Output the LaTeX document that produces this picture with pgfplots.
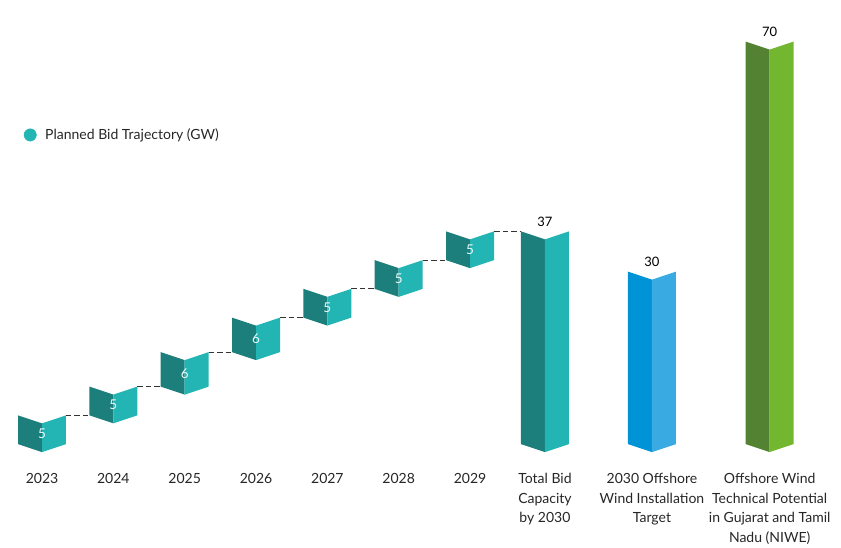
\documentclass[border=0pt]{standalone}
\usepackage{fontspec}
\setmainfont{Lato}
\usepackage{pgfplots}
\usepackage{pgfplotstable}
\pgfplotsset{compat=1.18}

\definecolor{tealD}{HTML}{1C7F7C}
\definecolor{tealL}{HTML}{23B5B3}
\definecolor{blueD}{HTML}{0093D6}
\definecolor{blueL}{HTML}{3AABE2}
\definecolor{greenD}{HTML}{528232}
\definecolor{greenL}{HTML}{72B72F}

% x position, bottom, top, label, fold colours
\pgfplotstableread{
x    lo hi v  dark   light
0    0  5  5  tealD  tealL
1    5  10 5  tealD  tealL
2    10 16 6  tealD  tealL
3    16 22 6  tealD  tealL
4    22 27 5  tealD  tealL
5    27 32 5  tealD  tealL
6    32 37 5  tealD  tealL
7.05 0  37 37 tealD  tealL
8.55 0  30 30 blueD  blueL
10.2 0  70 70 greenD greenL
}\bars

\def\hw{0.336}   % half width of a folded bar
\def\dep{1.39}   % depth of the fold

\begin{document}
\begin{tikzpicture}
\begin{axis}[
    scale only axis,
    width=841pt,
    height=465pt,
    xmin=-0.589, xmax=11.2,
    ymin=-3.65, ymax=77.22,
    clip=false,
    axis line style={draw=none},
    major tick length=0pt,
    ytick=\empty,
    xtick={0,1,2,3,4,5,6,7.05,8.55,10.2},
    xticklabels={2023,2024,2025,2026,2027,2028,2029,
        {Total Bid\\Capacity\\by 2030},
        {2030 Offshore\\Wind Installation\\Target},
        {Offshore Wind\\Technical Potential\\in Gujarat and Tamil\\Nadu (NIWE)}},
    xticklabel style={align=center, text=black!85, yshift=-5pt,
        font=\fontsize{14}{19.5}\selectfont},
    legend style={at={(0.0245,0.71)}, anchor=west, draw=none, fill=none,
        font=\fontsize{14}{16}\selectfont, text=black!85},
    legend image code/.code={\fill[#1] (0,0) circle (6.2pt);
        \path[draw=none] (-6pt,0) -- (13pt,0);},
    ]
\addlegendimage{tealL}
\addlegendentry{Planned Bid Trajectory (GW)}

% dashed connectors of the waterfall
\pgfplotsforeachungrouped \i in {0,...,6}{%
    \pgfmathtruncatemacro\j{\i+1}%
    \pgfplotstablegetelem{\i}{x}\of\bars \let\xa\pgfplotsretval
    \pgfplotstablegetelem{\j}{x}\of\bars \let\xb\pgfplotsretval
    \pgfplotstablegetelem{\i}{hi}\of\bars \let\ya\pgfplotsretval
    \pgfmathsetmacro\xs{\xa+\hw}%
    \pgfmathsetmacro\xe{\xb-\hw}%
    \edef\temp{\noexpand\addplot[forget plot, black!80, line width=1.1pt,
        dash pattern=on 5.5pt off 3pt] coordinates {(\xs,\ya) (\xe,\ya)};}%
    \temp
}

% folded bars
\pgfplotstablegetrowsof{\bars}
\pgfmathtruncatemacro\nrows{\pgfplotsretval-1}
\pgfplotsforeachungrouped \i in {0,...,\nrows}{%
    \pgfplotstablegetelem{\i}{x}\of\bars \let\bx\pgfplotsretval
    \pgfplotstablegetelem{\i}{lo}\of\bars \let\lo\pgfplotsretval
    \pgfplotstablegetelem{\i}{hi}\of\bars \let\hi\pgfplotsretval
    \pgfplotstablegetelem{\i}{dark}\of\bars \let\cd\pgfplotsretval
    \pgfplotstablegetelem{\i}{light}\of\bars \let\cl\pgfplotsretval
    \pgfmathsetmacro\xl{\bx-\hw}%
    \pgfmathsetmacro\xr{\bx+\hw}%
    \pgfmathsetmacro\hid{\hi-\dep}%
    \pgfmathsetmacro\lod{\lo-\dep}%
    \edef\temp{%
        \noexpand\addplot[forget plot, fill=\cd, draw=none]
            coordinates {(\xl,\hi) (\bx,\hid) (\bx,\lod) (\xl,\lo)} --cycle;
        \noexpand\addplot[forget plot, fill=\cl, draw=none]
            coordinates {(\bx,\hid) (\xr,\hi) (\xr,\lo) (\bx,\lod)} --cycle;}%
    \temp
}

% labels inside the yearly steps
\addplot[forget plot, draw=none, mark=none, nodes near coords,
    point meta=explicit symbolic,
    nodes near coords style={anchor=center, text=white!92!tealL,
        font=\fontsize{13.5}{15}\selectfont},
    skip coords between index={7}{10}]
    table[x=x, y expr={(\thisrow{lo}+\thisrow{hi})/2-0.7}, meta=v] {\bars};

% labels above the totals
\addplot[forget plot, draw=none, mark=none, nodes near coords,
    point meta=explicit symbolic,
    nodes near coords style={anchor=south, text=black, yshift=1pt,
        font=\fontsize{13}{15}\selectfont},
    skip coords between index={0}{7}]
    table[x=x, y=hi, meta=v] {\bars};
\end{axis}
\end{tikzpicture}
\end{document}
